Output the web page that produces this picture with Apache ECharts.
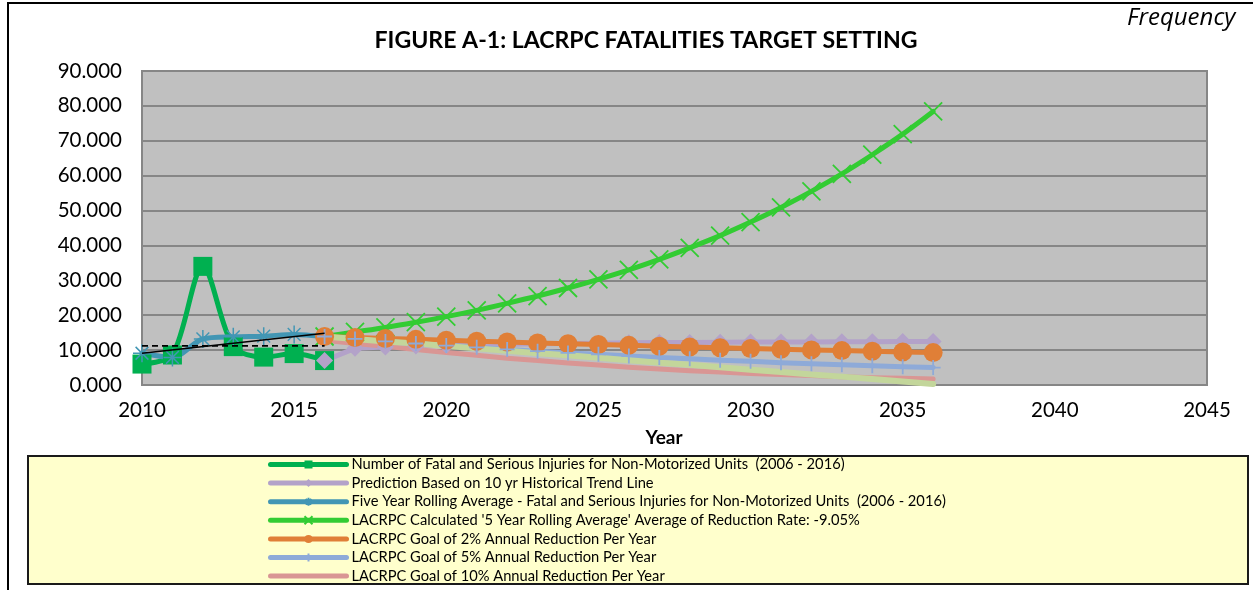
<!DOCTYPE html>
<html>
<head>
<meta charset="utf-8">
<script src="https://cdn.jsdelivr.net/npm/echarts@6/dist/echarts.min.js"></script>
<style>
  html, body { margin: 0; padding: 0; background: #ffffff; }
  #chart { width: 1253px; height: 590px; }
</style>
</head>
<body>
<div id="chart"></div>
<script>
// Historical period and projection period
const histYears = [2010, 2011, 2012, 2013, 2014, 2015, 2016];
const projYears = [2016, 2017, 2018, 2019, 2020, 2021, 2022, 2023, 2024, 2025, 2026,
                   2027, 2028, 2029, 2030, 2031, 2032, 2033, 2034, 2035, 2036];

// Observed counts and rolling average
const injuries      = [6.0, 8.6, 34.0, 11.0, 8.0, 9.0, 7.0];
const rollingAvg    = [9.1, 7.9, 13.2, 13.8, 14.0, 14.5, 13.8];

// Projections 2016-2036
const trendPrediction = [7.0, 10.5, 10.9, 11.2, 11.4, 11.6, 11.7, 11.8, 11.9, 12.0, 12.1,
                         12.15, 12.2, 12.25, 12.3, 12.3, 12.35, 12.4, 12.4, 12.45, 12.5];
const calcRate   = [13.9, 15.2, 16.5, 18.0, 19.6, 21.4, 23.4, 25.5, 27.8, 30.3, 33.0,
                    36.0, 39.3, 42.8, 46.7, 50.9, 55.5, 60.5, 66.0, 71.9, 78.4];
const goal2      = [13.9, 13.6, 13.35, 13.08, 12.82, 12.56, 12.31, 12.07, 11.83, 11.59, 11.36,
                    11.13, 10.91, 10.69, 10.48, 10.27, 10.06, 9.86, 9.66, 9.47, 9.28];
const goal5      = [13.9, 13.2, 12.5, 11.9, 11.3, 10.8, 10.2, 9.7, 9.2, 8.8, 8.3,
                    7.9, 7.5, 7.1, 6.8, 6.4, 6.1, 5.8, 5.5, 5.2, 5.0];
const goal10     = [12.8, 11.9, 11.1, 10.2, 9.3, 8.5, 7.7, 7.0, 6.3, 5.7, 5.1,
                    4.6, 4.1, 3.7, 3.3, 3.0, 2.7, 2.4, 2.1, 1.9, 1.7];
const linearGoal = [13.9, 13.2, 12.5, 11.9, 11.2, 10.5, 9.8, 9.1, 8.5, 7.8, 7.1,
                    6.4, 5.8, 5.1, 4.4, 3.7, 3.0, 2.4, 1.7, 1.0, 0.3];

// Trend lines over the historical period
const trendYears   = [2010, 2016];
const linearTrend  = [9.1, 14.8];
const averageLevel = [11.2, 11.2];

// Axis ticks
const xTicks = { min: 2010, max: 2045, step: 5 };
const yTicks = { min: 0, max: 90, step: 10 };

const seriesNames = [
  'Number of Fatal and Serious Injuries for Non-Motorized Units  (2006 - 2016)',
  'Prediction Based on 10 yr Historical Trend Line',
  'Five Year Rolling Average - Fatal and Serious Injuries for Non-Motorized Units  (2006 - 2016)',
  "LACRPC Calculated '5 Year Rolling Average' Average of Reduction Rate: -9.05%",
  'LACRPC Goal of 2% Annual Reduction Per Year',
  'LACRPC Goal of 5% Annual Reduction Per Year',
  'LACRPC Goal of 10% Annual Reduction Per Year'
];

const pair = (xs, ys) => xs.map((x, i) => [x, ys[i]]);

const FONT = 'Lato, "Open Sans", sans-serif';
const SYM_ASTERISK = 'path://M10,0L10,20M0,10L20,10M2.9,2.9L17.1,17.1M2.9,17.1L17.1,2.9';
const SYM_X = 'path://M0,0L20,20M0,20L20,0';
const SYM_PLUS = 'path://M10,0L10,20M4,10L16,10';

function lineSeries(name, data, color, extra) {
  return Object.assign({
    name: name,
    type: 'line',
    data: data,
    lineStyle: { color: color, width: 5, cap: 'round', join: 'round' },
    itemStyle: { color: color, borderColor: color, borderWidth: 0 },
    emphasis: { disabled: true },
    animation: false,
    z: 2
  }, extra || {});
}

// Legend entries; the 10% goal line has no marker
const legendData = seriesNames.map((name, i) =>
  i === 6 ? { name: name, itemStyle: { opacity: 0 } } : { name: name });

const chart = echarts.init(document.getElementById('chart'), null, { renderer: 'canvas' });

chart.setOption({
  backgroundColor: '#ffffff',
  textStyle: { fontFamily: FONT },
  title: {
    text: 'FIGURE A-1: LACRPC FATALITIES TARGET SETTING',
    left: 641, top: 24, textAlign: 'center',
    textStyle: { fontFamily: FONT, fontSize: 23.1, fontWeight: 'bold', color: '#000' }
  },
  graphic: [
    { type: 'rect', z: -10, shape: { x: 8, y: 3, width: 1260, height: 600 },
      style: { fill: '#ffffff', stroke: '#000', lineWidth: 2 } },
    { type: 'rect', z: -5, shape: { x: 28, y: 456, width: 1220, height: 128 },
      style: { fill: '#FFFFCC', stroke: '#1a1a1a', lineWidth: 2 } },
    { type: 'text', left: 1127, top: 6,
      style: { text: 'Frequency', font: 'italic 24px "Open Sans", sans-serif', fill: '#000' } },
    { type: 'text', x: 36, y: 252, rotation: Math.PI / 2, origin: [36, 252],
      style: { text: 'Fatalities', font: 'bold 19px ' + FONT, fill: '#000',
               align: 'center', verticalAlign: 'middle' } },
    { type: 'text', x: 664, y: 438,
      style: { text: 'Year', font: 'bold 19px ' + FONT, fill: '#000',
               align: 'center', verticalAlign: 'middle' } }
  ],
  legend: {
    orient: 'vertical',
    left: 268, top: 457, padding: 0,
    itemWidth: 76, itemHeight: 10, itemGap: 3.6,
    data: legendData,
    selectedMode: false,
    lineStyle: { width: 5, cap: 'round' },
    textStyle: { fontFamily: FONT, fontSize: 14.7, color: '#000' }
  },
  grid: {
    left: 142, top: 71, right: 46, bottom: 205,
    show: true, backgroundColor: '#C0C0C0', borderColor: '#868686', borderWidth: 2
  },
  xAxis: {
    type: 'value', min: xTicks.min, max: xTicks.max, interval: xTicks.step,
    axisLine: { show: false }, axisTick: { show: false }, splitLine: { show: false },
    axisLabel: { fontFamily: FONT, fontSize: 20.5, color: '#000', margin: 15,
                 formatter: v => String(v) }
  },
  yAxis: {
    type: 'value', min: yTicks.min, max: yTicks.max, interval: yTicks.step,
    axisLine: { show: false }, axisTick: { show: false },
    splitLine: { lineStyle: { color: '#868686', width: 2 } },
    axisLabel: { fontFamily: FONT, fontSize: 20.5, color: '#000', margin: 20,
                 formatter: v => v.toFixed(3) }
  },
  series: [
    lineSeries(seriesNames[0], pair(histYears, injuries), '#00B050',
      { smooth: 0.3, symbol: 'rect', symbolSize: 19 }),
    lineSeries(seriesNames[1], pair(projYears, trendPrediction), '#B3A2C9',
      { symbol: 'diamond', symbolSize: 17 }),
    lineSeries(seriesNames[2], pair(histYears, rollingAvg), '#4296B4',
      { smooth: 0.3, symbol: SYM_ASTERISK, symbolSize: 18,
        itemStyle: { color: 'none', borderColor: '#4296B4', borderWidth: 1.5 } }),
    lineSeries(seriesNames[3], pair(projYears, calcRate), '#33CC33',
      { smooth: 0.3, symbol: SYM_X, symbolSize: 18,
        itemStyle: { color: 'none', borderColor: '#33CC33', borderWidth: 1.8 } }),
    lineSeries(seriesNames[4], pair(projYears, goal2), '#E07F37',
      { symbol: 'circle', symbolSize: 19 }),
    lineSeries(seriesNames[5], pair(projYears, goal5), '#8EAAD8',
      { symbol: SYM_PLUS, symbolSize: 15,
        itemStyle: { color: 'none', borderColor: '#8EAAD8', borderWidth: 1.8 } }),
    lineSeries(seriesNames[6], pair(projYears, goal10), '#D99694',
      { symbol: 'none' }),
    lineSeries('Linear reduction to 2036', pair(projYears, linearGoal), '#C3D69B',
      { symbol: 'none', lineStyle: { color: '#C3D69B', width: 6, cap: 'round' } }),
    lineSeries('Linear trend', pair(trendYears, linearTrend), '#000000',
      { symbol: 'none', z: 5, lineStyle: { color: '#000', width: 1.5 } }),
    lineSeries('Average level', pair(trendYears, averageLevel), '#000000',
      { symbol: 'none', z: 5, lineStyle: { color: '#000', width: 1.8, type: [6, 4] } })
  ]
});
</script>
</body>
</html>
